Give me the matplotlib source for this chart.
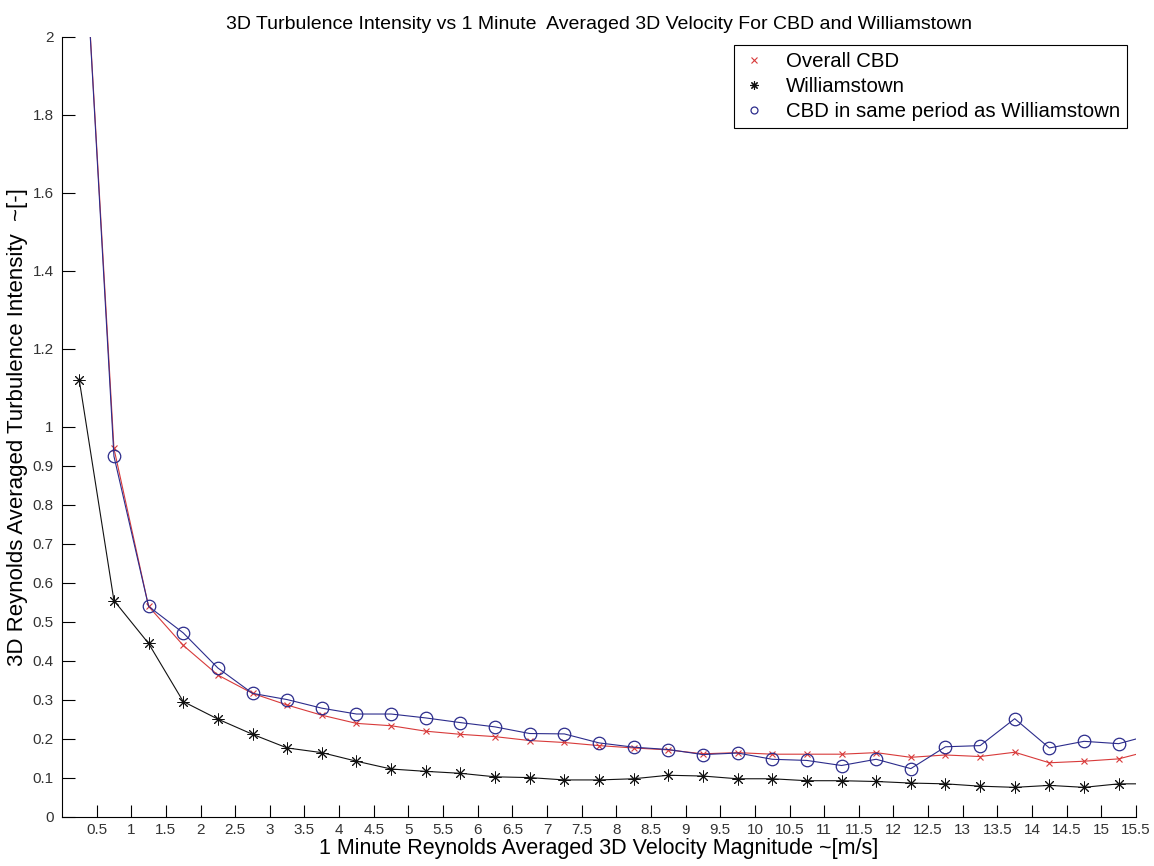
import matplotlib
matplotlib.use("Agg")
import matplotlib.pyplot as plt
from matplotlib.lines import Line2D

plt.rcParams['font.family'] = ['Liberation Sans', 'DejaVu Sans']

# bin centres of the 1 minute averaged 3D velocity (m/s)
speed = [0.25, 0.75, 1.25, 1.75, 2.25, 2.75, 3.25, 3.75, 4.25, 4.75, 5.25,
         5.75, 6.25, 6.75, 7.25, 7.75, 8.25, 8.75, 9.25, 9.75, 10.25, 10.75,
         11.25, 11.75, 12.25, 12.75, 13.25, 13.75, 14.25, 14.75, 15.25, 15.75]

ti_cbd = [2.50, 0.945, 0.540, 0.440, 0.364, 0.317, 0.287, 0.261, 0.240, 0.234,
          0.220, 0.212, 0.206, 0.196, 0.191, 0.183, 0.177, 0.172, 0.162, 0.165,
          0.161, 0.161, 0.161, 0.165, 0.153, 0.159, 0.155, 0.166, 0.139, 0.143,
          0.149, 0.172]

ti_wil = [1.12, 0.555, 0.445, 0.296, 0.251, 0.212, 0.177, 0.165, 0.143, 0.123,
          0.117, 0.112, 0.103, 0.101, 0.095, 0.095, 0.098, 0.107, 0.105, 0.098,
          0.098, 0.093, 0.093, 0.091, 0.087, 0.085, 0.079, 0.076, 0.081, 0.076,
          0.085, 0.085]

ti_cbd_same = [2.50, 0.925, 0.540, 0.472, 0.382, 0.317, 0.301, 0.279, 0.264,
               0.264, 0.254, 0.242, 0.231, 0.214, 0.213, 0.190, 0.179, 0.173,
               0.160, 0.164, 0.148, 0.145, 0.132, 0.148, 0.124, 0.180, 0.183,
               0.252, 0.177, 0.194, 0.188, 0.212]

x_ticks = [i * 0.5 for i in range(1, 32)]
x_labels = ["%g" % t for t in x_ticks]
y_ticks = [0, 0.1, 0.2, 0.3, 0.4, 0.5, 0.6, 0.7, 0.8, 0.9, 1, 1.2, 1.4, 1.6, 1.8, 2]
y_labels = ["%g" % t for t in y_ticks]

red = "#d83a3a"
navy = "#2c2c8c"
black = "#111111"

fig = plt.figure(figsize=(11.54, 8.66), dpi=100)
ax = fig.add_axes([0.0537, 0.0566, 0.9307, 0.9007])

ax.plot(speed, ti_cbd, "-", color=red, lw=0.8)
ax.plot(speed, ti_cbd, "x", color=red, ms=5, mew=0.8)
ax.plot(speed, ti_wil, "-", color=black, lw=0.8)
ax.plot(speed, ti_wil, marker=(8, 2, 0), ls="none", color=black, ms=8.5, mew=0.7)
ax.plot(speed, ti_cbd_same, "-", color=navy, lw=0.8)
ax.plot(speed, ti_cbd_same, "o", color=navy, mfc="none", ms=9, mew=0.9)

ax.set_xlim(0, 15.5)
ax.set_ylim(0, 2)
ax.set_xticks(x_ticks)
ax.set_xticklabels(x_labels)
ax.set_yticks(y_ticks)
ax.set_yticklabels(y_labels)
ax.tick_params(direction="in", length=9, width=0.8, labelsize=11,
               labelcolor="#333333", pad=4)
ax.tick_params(axis="y", pad=6)

for side in ["top", "right"]:
    ax.spines[side].set_visible(False)
ax.spines["left"].set_linewidth(0.8)
ax.spines["bottom"].set_linewidth(0.8)

ax.set_title("3D Turbulence Intensity vs 1 Minute  Averaged 3D Velocity For CBD and Williamstown",
             fontsize=14, pad=6)
ax.set_xlabel("1 Minute Reynolds Averaged 3D Velocity Magnitude ~[m/s]", fontsize=15.5, labelpad=1)
ax.set_ylabel("3D Reynolds Averaged Turbulence Intensity  ~[-]", fontsize=16, labelpad=3)

handles = [
    Line2D([], [], ls="none", marker="x", color=red, ms=4, mew=0.8),
    Line2D([], [], ls="none", marker=(8, 2, 0), color=black, ms=6, mew=0.8),
    Line2D([], [], ls="none", marker="o", color=navy, mfc="none", ms=5, mew=0.9),
]
leg = ax.legend(handles, ["Overall CBD", "Williamstown", "CBD in same period as Williamstown"],
                loc="upper right", fontsize=14.7, fancybox=False, framealpha=1,
                edgecolor="black", handlelength=1.3, handletextpad=0.9,
                borderpad=0.35, labelspacing=0.3, borderaxespad=0,
                bbox_to_anchor=(0.9916, 0.99))
leg.get_frame().set_linewidth(0.8)

fig.savefig("out.png", dpi=100)
